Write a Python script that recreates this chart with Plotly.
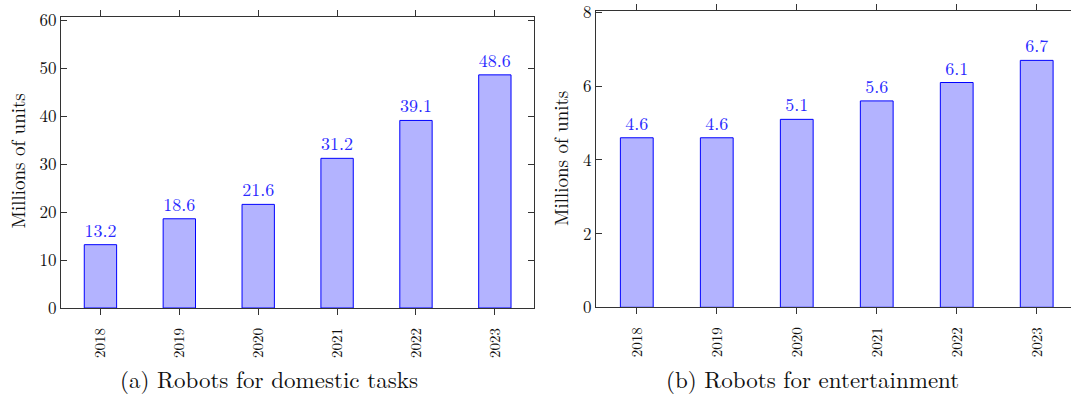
import plotly.graph_objects as go

# Yearly sales, millions of units
years = ["2018", "2019", "2020", "2021", "2022", "2023"]
domestic = [13.2, 18.6, 21.6, 31.2, 39.1, 48.6]
entertainment = [4.6, 4.6, 5.1, 5.6, 6.1, 6.7]
domestic_ticks = [0, 10, 20, 30, 40, 50, 60]
entertainment_ticks = [0, 2, 4, 6, 8]

captions = ["(a) Robots for domestic tasks", "(b) Robots for entertainment"]
y_title = "Millions of units"

W, H = 1085, 397
FONT = "Latin Modern Roman"
BAR_FILL = "#b3b3ff"
BAR_EDGE = "#0000ff"
LABEL_BLUE = "#2a2aff"
AXIS = "#333333"
TEXT = "#111111"


def px_x(p):
    return p / W


def px_y(p):
    return (H - p) / H


fig = go.Figure()

for i, vals in enumerate([domestic, entertainment]):
    sfx = "" if i == 0 else "2"
    fig.add_trace(go.Bar(
        x=list(range(len(years))), y=vals,
        xaxis="x" + sfx, yaxis="y" + sfx,
        width=0.41,
        marker=dict(color=BAR_FILL, line=dict(color=BAR_EDGE, width=1)),
        texttemplate="%{y:.1f}", textposition="outside",
        textfont=dict(family=FONT, size=18, color=LABEL_BLUE),
        constraintext="none", cliponaxis=False,
        showlegend=False, hoverinfo="skip",
    ))

xcommon = dict(
    tickmode="array", tickvals=list(range(len(years))), ticktext=years,
    tickangle=-90, ticks="outside", ticklen=6, tickcolor=AXIS, tickwidth=1,
    ticklabelstandoff=7, ticklabeloverflow="allow",
    showline=True, linecolor=AXIS, linewidth=1, mirror="ticks",
    showgrid=False, zeroline=False, automargin=False,
    tickfont=dict(family=FONT, size=15, color=TEXT),
)
ycommon = dict(
    tickmode="array", ticklabeloverflow="allow",
    ticks="inside", ticklen=6, tickcolor=AXIS, tickwidth=1,
    showline=True, linecolor=AXIS, linewidth=1, mirror="ticks",
    showgrid=False, zeroline=False, automargin=False,
    tickfont=dict(family=FONT, size=17, color=TEXT),
)

fig.update_layout(
    template="none",
    width=W, height=H,
    margin=dict(l=0, r=0, t=0, b=0, pad=0),
    plot_bgcolor="white", paper_bgcolor="white",
    font=dict(family=FONT, color=TEXT),
    xaxis=dict(xcommon, domain=[px_x(61), px_x(534.3)], range=[-0.5, 5.5], anchor="y"),
    yaxis=dict(ycommon, domain=[px_y(308), px_y(17.3)], range=[0, 60.6],
               tickvals=domestic_ticks, anchor="x"),
    xaxis2=dict(xcommon, domain=[px_x(596), px_x(1076.7)], range=[-0.51, 5.5], anchor="y2"),
    yaxis2=dict(ycommon, domain=[px_y(307.3), px_y(11)], range=[0, 8.04],
                tickvals=entertainment_ticks, anchor="x2"),
)

# Subfigure captions
for cap, cx in zip(captions, [268.5, 812.5]):
    fig.add_annotation(
        text=cap, xref="paper", yref="paper", x=px_x(cx), y=px_y(378),
        xanchor="center", yanchor="middle", showarrow=False,
        font=dict(family=FONT, size=23, color=TEXT),
    )

# Vertical axis titles
for cx, cy in [(16.5, 161), (560, 159)]:
    fig.add_annotation(
        text=y_title, xref="paper", yref="paper", x=px_x(cx), y=px_y(cy),
        xanchor="center", yanchor="middle", textangle=-90, showarrow=False,
        font=dict(family=FONT, size=19, color=TEXT),
    )

fig.write_html(
    "out.html",
    post_script="document.documentElement.style.overflow='hidden';"
                "document.body.style.overflow='hidden';",
)
